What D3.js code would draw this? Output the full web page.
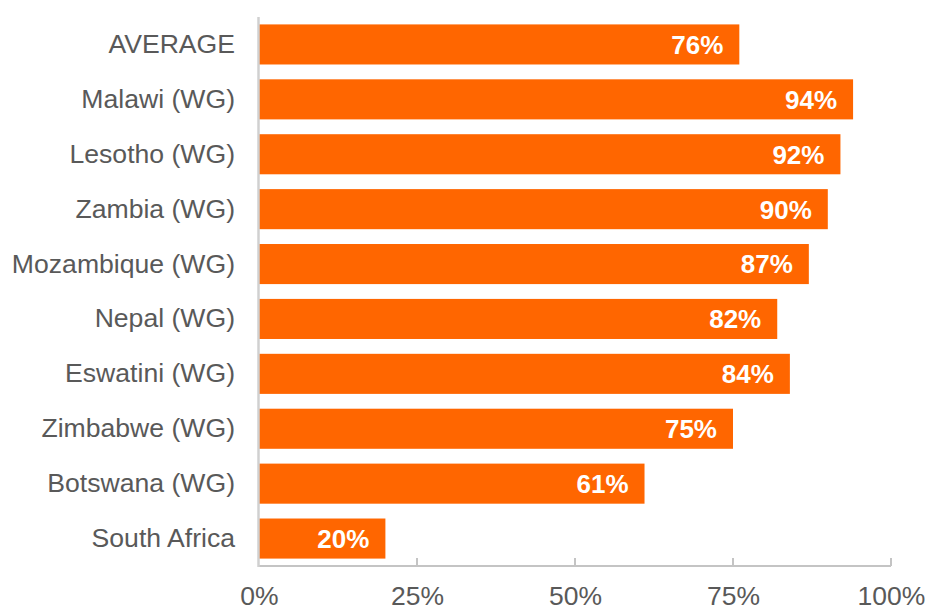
<!DOCTYPE html>
<html>
<head>
<meta charset="utf-8">
<script src="https://cdn.jsdelivr.net/npm/d3@7"></script>
<style>
  body { margin: 0; background: #fff; }
  text { font-family: "Liberation Sans", Arial, sans-serif; }
</style>
</head>
<body>
<div id="chart-area"></div>
<script>
// data
const countries = ["AVERAGE", "Malawi (WG)", "Lesotho (WG)", "Zambia (WG)", "Mozambique (WG)",
  "Nepal (WG)", "Eswatini (WG)", "Zimbabwe (WG)", "Botswana (WG)", "South Africa"]
const shares = [76, 94, 92, 90, 87, 82, 84, 75, 61, 20]
const xTicks = [0, 25, 50, 75, 100]

function drawChart() {
    const svgWidth = 926
    const svgHeight = 610
    const margin = { left: 259, right: 35, top: 17, bottom: 44 }
    const chartWidth = svgWidth - margin.left - margin.right
    const chartHeight = svgHeight - margin.top - margin.bottom

    const dataset = countries.map((c, i) => ({ country: c, value: shares[i] }))

    const svg = d3.select("#chart-area")
      .append("svg")
      .attr("width", svgWidth)
      .attr("height", svgHeight)

    const chart = svg.append("g")
      .attr("transform", `translate(${margin.left},${margin.top})`)

    const xScale = d3.scaleLinear()
      .domain([0, 100])
      .range([0, chartWidth])

    const yScale = d3.scaleBand()
      .domain(countries)
      .range([0, chartHeight])
      .paddingInner(0.27)
      .paddingOuter(0.135)

    // bars
    chart.selectAll("rect.bar")
      .data(dataset)
      .join("rect")
      .attr("class", "bar")
      .attr("x", xScale(0))
      .attr("y", d => yScale(d.country))
      .attr("width", d => xScale(d.value) - xScale(0))
      .attr("height", yScale.bandwidth())
      .attr("fill", "#ff6600")

    // value labels
    chart.selectAll("text.val")
      .data(dataset)
      .join("text")
      .attr("class", "val")
      .attr("x", d => xScale(d.value) - 16)
      .attr("y", d => yScale(d.country) + yScale.bandwidth() / 2)
      .attr("dy", "0.36em")
      .attr("text-anchor", "end")
      .attr("fill", "#fff")
      .attr("font-weight", "bold")
      .attr("font-size", 26)
      .text(d => d.value + "%")

    // x axis
    const xAxis = chart.append("g")
      .attr("transform", `translate(0,${chartHeight})`)
      .call(d3.axisBottom(xScale).tickValues(xTicks).tickSize(0).tickPadding(20)
        .tickFormat(d => d + "%"))
    xAxis.select(".domain").remove()
    xAxis.selectAll("text")
      .attr("font-size", 26.5)
      .attr("fill", "#595959")
      .attr("font-family", "Liberation Sans, Arial, sans-serif")

    xAxis.append("line")
      .attr("x1", xScale(0) - 1)
      .attr("x2", xScale(100))
      .attr("stroke", "#c4c4c4")
      .attr("stroke-width", 2)

    xAxis.selectAll("line.tick-up")
      .data(xTicks.slice(1))
      .join("line")
      .attr("class", "tick-up")
      .attr("x1", d => xScale(d))
      .attr("x2", d => xScale(d))
      .attr("y1", 0)
      .attr("y2", -8)
      .attr("stroke", "#c4c4c4")
      .attr("stroke-width", 2)

    // y axis
    const yAxis = chart.append("g")
      .call(d3.axisLeft(yScale).tickSize(0).tickPadding(24))
    yAxis.select(".domain").remove()
    yAxis.selectAll("text")
      .attr("font-size", 26.6)
      .attr("fill", "#595959")
      .attr("font-family", "Liberation Sans, Arial, sans-serif")

    chart.append("line")
      .attr("x1", -0.5)
      .attr("x2", -0.5)
      .attr("y1", 0)
      .attr("y2", chartHeight + 1)
      .attr("stroke", "#d0d0d0")
      .attr("stroke-width", 2.5)
}

drawChart()
</script>
</body>
</html>
